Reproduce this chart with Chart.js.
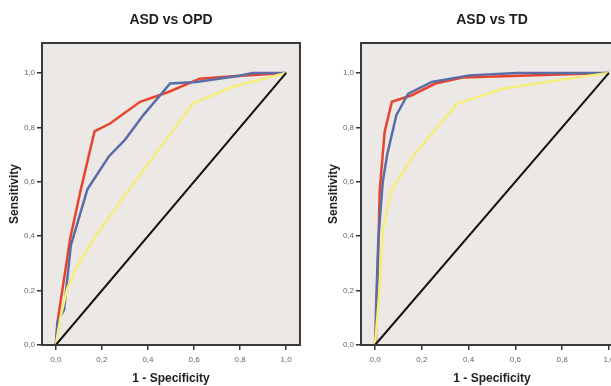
<!DOCTYPE html>
<html>
<head>
<meta charset="utf-8">
<script src="https://cdn.jsdelivr.net/npm/chart.js@4"></script>
<style>
  html, body { margin: 0; padding: 0; background: #fff; overflow: hidden; width: 611px; height: 386px; }
  .box { position: absolute; top: 0; height: 386px; }
</style>
</head>
<body>
<div class="box" style="left:0;width:305px"><canvas id="opd"></canvas></div>
<div class="box" style="left:305px;width:318px"><canvas id="td"></canvas></div>
<script>
// tick values on both axes
const tickVals = [0, 0.2, 0.4, 0.6, 0.8, 1.0];
const chartTitles = ['ASD vs OPD', 'ASD vs TD'];
const diagonal = [{x: 0, y: 0}, {x: 1, y: 1}];

// ASD vs OPD  (x = 1 - specificity, y = sensitivity)
const opdRedX = [0, 0.01, 0.062, 0.108, 0.168, 0.237, 0.366, 0.489, 0.625, 0.77, 1];
const opdRedY = [0, 0.1, 0.39, 0.57, 0.785, 0.815, 0.894, 0.93, 0.979, 0.988, 1];
const opdBlueX = [0, 0.007, 0.036, 0.065, 0.137, 0.23, 0.30, 0.38, 0.496, 0.61, 0.797, 0.855, 1];
const opdBlueY = [0, 0.085, 0.13, 0.365, 0.572, 0.693, 0.754, 0.845, 0.961, 0.967, 0.99, 1.0, 1];
const opdYellowX = [0, 0.02, 0.05, 0.093, 0.18, 0.30, 0.467, 0.596, 0.769, 1];
const opdYellowY = [0, 0.1, 0.21, 0.29, 0.41, 0.55, 0.742, 0.888, 0.949, 1];

// ASD vs TD
const tdRedX = [0, 0.012, 0.02, 0.041, 0.072, 0.157, 0.258, 0.374, 0.548, 1];
const tdRedY = [0, 0.288, 0.569, 0.783, 0.894, 0.918, 0.961, 0.983, 0.988, 1];
const tdBlueX = [0, 0.004, 0.014, 0.033, 0.052, 0.091, 0.142, 0.243, 0.403, 0.606, 1];
const tdBlueY = [0, 0.128, 0.386, 0.6, 0.70, 0.845, 0.924, 0.967, 0.991, 1.0, 1];
const tdYellowX = [0, 0.019, 0.033, 0.07, 0.171, 0.352, 0.548, 0.78, 1];
const tdYellowY = [0, 0.2, 0.42, 0.569, 0.704, 0.887, 0.942, 0.973, 1];

const pts = (xs, ys) => xs.map((x, i) => ({x: x, y: ys[i]}));

// fundo cinza + moldura + título centrado sobre a área do gráfico
const framePlugin = {
  id: 'frame',
  beforeDraw(chart) {
    const a = chart.chartArea, c = chart.ctx;
    c.save();
    c.fillStyle = '#ebe8e5';
    c.fillRect(a.left, a.top, a.right - a.left, a.bottom - a.top);
    c.restore();
  },
  afterDraw(chart) {
    const a = chart.chartArea, c = chart.ctx;
    c.save();
    c.strokeStyle = '#3a3a3a';
    c.lineWidth = 2;
    c.strokeRect(a.left, a.top, a.right - a.left, a.bottom - a.top);
    c.fillStyle = '#1e1e1e';
    c.font = 'bold 14px "Liberation Sans", Arial, sans-serif';
    c.textAlign = 'center';
    c.textBaseline = 'middle';
    c.fillText(chart.options.plugins.frame.text, (a.left + a.right) / 2, 20);
    c.restore();
  }
};

function fmt(v) { return v.toFixed(1).replace('.', ','); }

function makeChart(id, title, red, blue, yellow, padLeft, padRight) {
  new Chart(document.getElementById(id), {
    type: 'line',
    data: {
      datasets: [
        {data: diagonal, borderColor: '#111', borderWidth: 2},
        {data: yellow, borderColor: '#f6ee7c', borderWidth: 2.5},
        {data: blue, borderColor: '#5a6da6', borderWidth: 2.5},
        {data: red, borderColor: '#e8442d', borderWidth: 2.5}
      ]
    },
    options: {
      responsive: true,
      maintainAspectRatio: false,
      animation: false,
      events: [],
      elements: {point: {radius: 0}, line: {tension: 0}},
      layout: {padding: {top: 43, left: padLeft, right: padRight, bottom: 0}},
      plugins: {
        legend: {display: false},
        tooltip: {enabled: false},
        frame: {text: title}
      },
      scales: {
        x: {
          type: 'linear', min: -0.06, max: 1.06,
          afterBuildTicks: s => { s.ticks = tickVals.map(v => ({value: v})); },
          afterFit: s => { s.height = 41; },
          grid: {drawOnChartArea: false, tickLength: 5, color: '#333', lineWidth: 1.5},
          border: {display: false},
          ticks: {callback: fmt, color: '#666', font: {size: 8, family: 'Liberation Sans'}, padding: 5, maxRotation: 0},
          title: {display: true, text: '1 - Specificity', color: '#222', font: {size: 12, weight: 'bold', family: 'Liberation Sans'}, padding: {top: 0, bottom: 0}}
        },
        y: {
          type: 'linear', min: 0, max: 1.11,
          afterBuildTicks: s => { s.ticks = tickVals.map(v => ({value: v})); },
          afterFit: s => { s.width = 42; },
          grid: {drawOnChartArea: false, tickLength: 5, color: '#333', lineWidth: 1.5},
          border: {display: false},
          ticks: {callback: fmt, color: '#666', font: {size: 8, family: 'Liberation Sans'}, padding: 2},
          title: {display: true, text: 'Sensitivity', color: '#222', font: {size: 12, weight: 'bold', family: 'Liberation Sans'}, padding: {top: 7, bottom: 2}}
        }
      }
    },
    plugins: [framePlugin]
  });
}

makeChart('opd', chartTitles[0], pts(opdRedX, opdRedY), pts(opdBlueX, opdBlueY), pts(opdYellowX, opdYellowY), 0, 5);
makeChart('td', chartTitles[1], pts(tdRedX, tdRedY), pts(tdBlueX, tdBlueY), pts(tdYellowX, tdYellowY), 14, 0);
</script>
</body>
</html>
